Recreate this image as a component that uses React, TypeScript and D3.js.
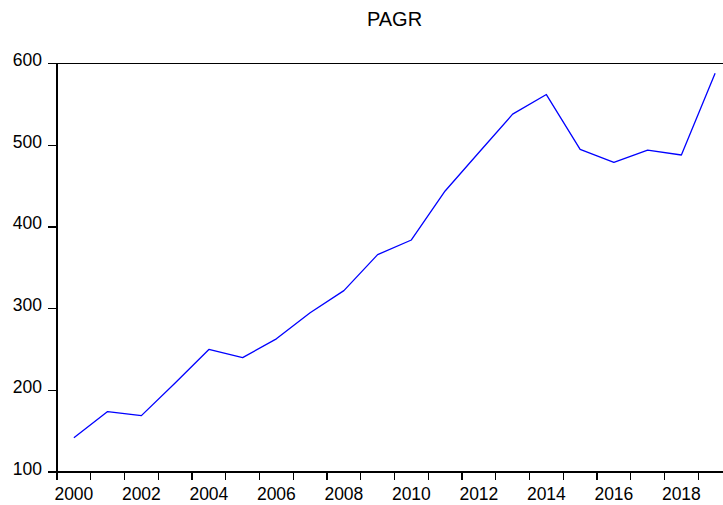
import React from "react";
import * as d3 from "d3";

const width = 723;
const height = 505;
const margin = { top: 63.5, right: -9, bottom: 33, left: 57 };

const title = "PAGR";
const years = [
  2000, 2001, 2002, 2003, 2004, 2005, 2006, 2007, 2008, 2009,
  2010, 2011, 2012, 2013, 2014, 2015, 2016, 2017, 2018, 2019,
];
const pagr = [
  142, 174, 169, 209, 250, 240, 263, 295, 322, 366,
  384, 444, 491, 538, 562, 495, 479, 494, 488, 588,
];
const yTicks = [100, 200, 300, 400, 500, 600];
const xLabels = [2000, 2002, 2004, 2006, 2008, 2010, 2012, 2014, 2016, 2018];

const font = "Arial, 'Liberation Sans', sans-serif";

const App = () => {
  const x = d3
    .scaleBand<number>()
    .domain(years)
    .range([margin.left, width - margin.right])
    .padding(0);

  const y = d3
    .scaleLinear()
    .domain([100, 600])
    .range([height - margin.bottom, margin.top]);

  const bw = x.bandwidth();
  const cx = (yr: number) => (x(yr) as number) + bw / 2;

  const line = d3
    .line<number>()
    .x((_, i) => cx(years[i]))
    .y((d) => y(d));

  const x0 = margin.left;
  const x1 = width - margin.right;
  const yTop = y(600);
  const yBot = y(100);

  return (
    <svg
      width={width}
      height={height}
      style={{ position: "absolute", left: 0, top: 0, background: "#fff" }}
    >
      <text
        x={(x0 + x1) / 2}
        y={26}
        textAnchor="middle"
        fontFamily={font}
        fontSize={20}
        fill="#000"
      >
        {title}
      </text>

      <path
        d={line(pagr) || ""}
        fill="none"
        stroke="#0000ff"
        strokeWidth={1.3}
        strokeLinejoin="round"
      />

      {/* frame */}
      <g stroke="#000" strokeWidth={1.2} shapeRendering="crispEdges">
        <line x1={x0} x2={x1} y1={yTop} y2={yTop} />
        <line x1={x0} x2={x1} y1={yBot} y2={yBot} />
        <line x1={x0} x2={x0} y1={yTop} y2={yBot + 8} />
        <line x1={x1} x2={x1} y1={yTop} y2={yBot} />
      </g>

      {/* y axis */}
      {yTicks.map((t) => (
        <g key={t}>
          <line
            x1={x0 - 9}
            x2={x0}
            y1={y(t)}
            y2={y(t)}
            stroke="#000"
            strokeWidth={1.2}
            shapeRendering="crispEdges"
          />
          <text
            x={x0 - 15}
            y={y(t) + 2.5}
            textAnchor="end"
            fontFamily={font}
            fontSize={17.5}
            fill="#000"
          >
            {t}
          </text>
        </g>
      ))}

      {/* x axis */}
      {years.map((yr) => (
        <line
          key={yr}
          x1={x(yr) as number}
          x2={x(yr) as number}
          y1={yBot}
          y2={yBot + 8}
          stroke="#000"
          strokeWidth={1.2}
          shapeRendering="crispEdges"
        />
      ))}
      {xLabels.map((yr) => (
        <text
          key={yr}
          x={cx(yr)}
          y={500}
          textAnchor="middle"
          fontFamily={font}
          fontSize={17.5}
          fill="#000"
        >
          {yr}
        </text>
      ))}
    </svg>
  );
};

export default App;
